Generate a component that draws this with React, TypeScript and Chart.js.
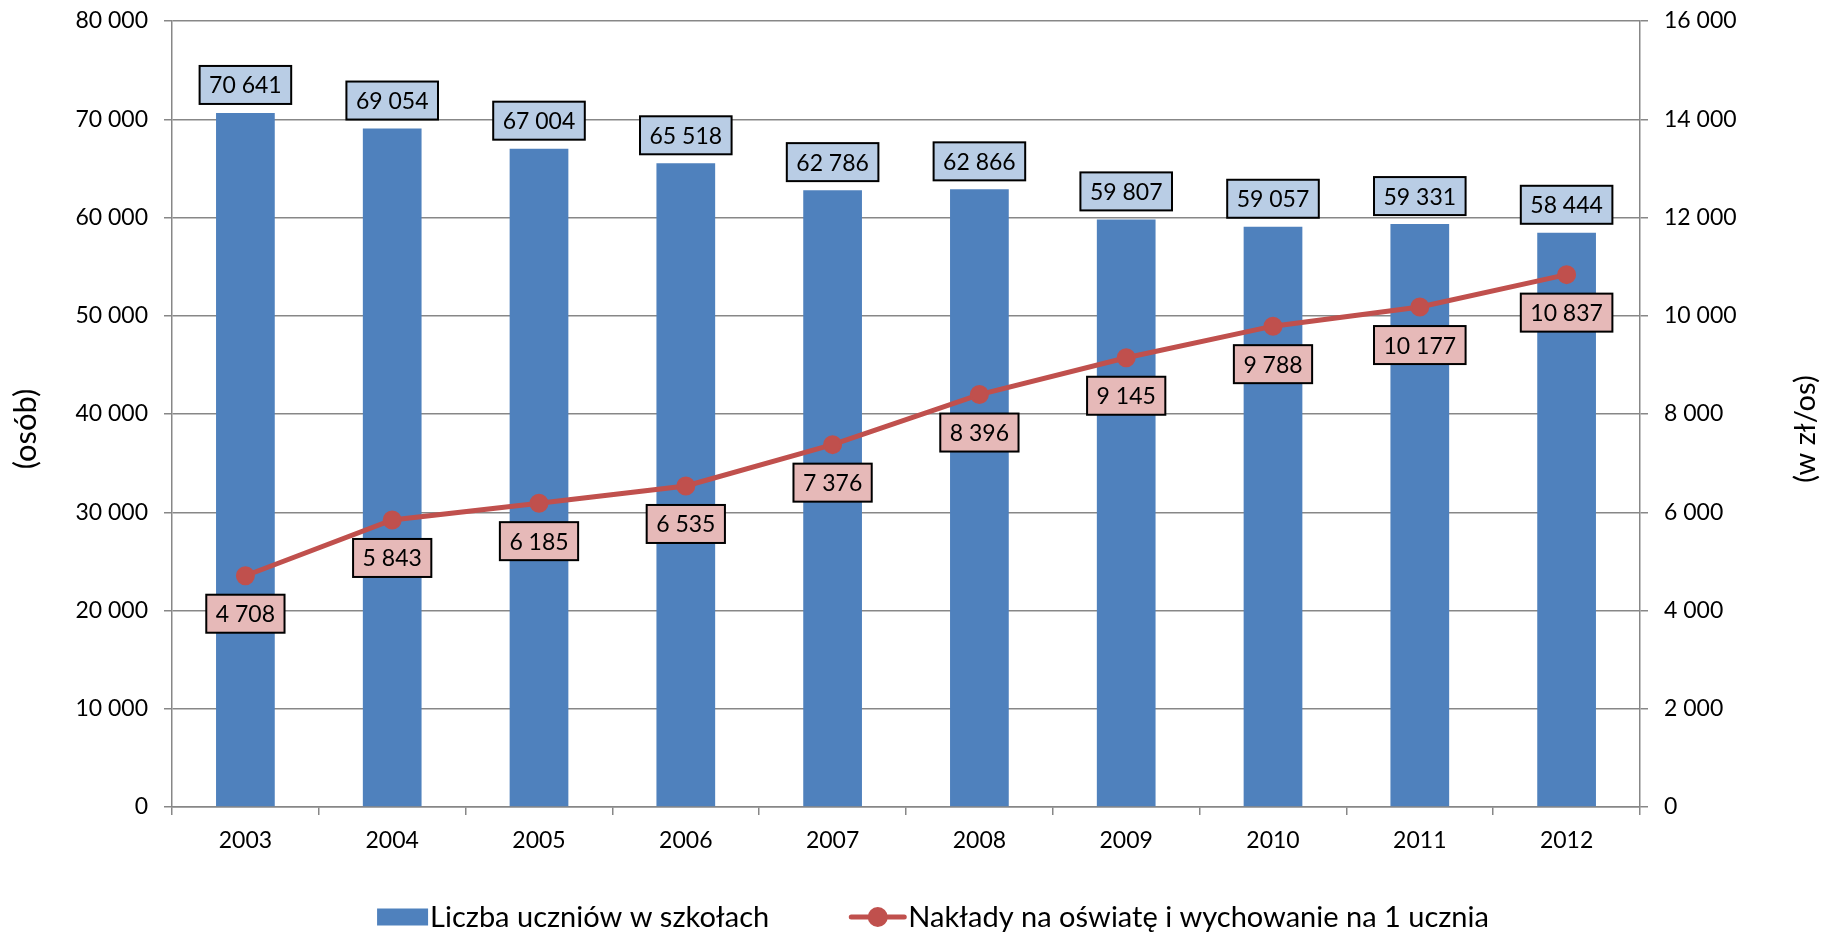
import React, { useEffect, useRef } from 'react';
import { Chart, registerables } from 'chart.js';

Chart.register(...registerables);

const years = ['2003', '2004', '2005', '2006', '2007', '2008', '2009', '2010', '2011', '2012'];
const students = [70641, 69054, 67004, 65518, 62786, 62866, 59807, 59057, 59331, 58444];
const spending = [4708, 5843, 6185, 6535, 7376, 8396, 9145, 9788, 10177, 10837];
const leftTickValues = [0, 10000, 20000, 30000, 40000, 50000, 60000, 70000, 80000];
const rightTickValues = [0, 2000, 4000, 6000, 8000, 10000, 12000, 14000, 16000];
const seriesNames = ['Liczba uczniów w szkołach', 'Nakłady na oświatę i wychowanie na 1 ucznia'];
const axisTitles = ['(osób)', '(w zł/os)'];

const FONT = 'Lato, "DejaVu Sans", sans-serif';
const GRID = '#878787';
const BAR = '#4f81bd';
const LINE = '#c0504d';
const BAR_LABEL = '#b9cde5';
const LINE_LABEL = '#e6b9b8';

const fmt = (v: number) => String(Math.round(v)).replace(/\B(?=(\d{3})+(?!\d))/g, ' ');

const boxLabels = {
  id: 'boxLabels',
  afterDatasetsDraw(chart: any) {
    const ctx = chart.ctx;
    ctx.save();
    ctx.font = `23px ${FONT}`;
    chart.data.datasets.forEach((ds: any, di: number) => {
      const meta = chart.getDatasetMeta(di);
      const isBar = meta.type === 'bar';
      meta.data.forEach((el: any, i: number) => {
        const txt = fmt(ds.data[i]);
        const cx = el.x;
        const cy = isBar ? el.y - 28 : el.y + 38;
        const w = ctx.measureText(txt).width + 19;
        const h = 38;
        ctx.fillStyle = isBar ? BAR_LABEL : LINE_LABEL;
        ctx.fillRect(cx - w / 2, cy - h / 2, w, h);
        ctx.lineWidth = 2;
        ctx.strokeStyle = '#000';
        ctx.strokeRect(cx - w / 2, cy - h / 2, w, h);
        ctx.fillStyle = '#000';
        ctx.textAlign = 'center';
        ctx.textBaseline = 'alphabetic';
        ctx.fillText(txt, cx, cy + 8.5);
      });
    });
    ctx.restore();
  },
};

const extras = {
  id: 'extras',
  afterDraw(chart: any) {
    const ctx = chart.ctx;
    const { top, bottom } = chart.chartArea;
    ctx.save();
    // axis titles, both rotated bottom-to-top
    ctx.fillStyle = '#000';
    ctx.textAlign = 'center';
    ctx.textBaseline = 'middle';
    const cy = (top + bottom) / 2 + 15;
    [[26, axisTitles[0], 31], [1806, axisTitles[1], 29]].forEach(([x, t, size]: any) => {
      ctx.save();
      ctx.font = `${size}px ${FONT}`;
      ctx.translate(x, cy);
      ctx.rotate(-Math.PI / 2);
      ctx.fillText(t, 0, 0);
      ctx.restore();
    });
    // legend
    ctx.font = `29px ${FONT}`;
    ctx.textAlign = 'left';
    ctx.textBaseline = 'alphabetic';
    const w1 = ctx.measureText(seriesNames[0]).width;
    const w2 = ctx.measureText(seriesNames[1]).width;
    const total = 51 + 2 + w1 + 80 + 57 + 2 + w2;
    const start = 933 - total / 2;
    const yc = chart.height - 15;
    ctx.fillStyle = BAR;
    ctx.fillRect(start, yc - 8.5, 51, 17);
    ctx.fillStyle = '#000';
    ctx.fillText(seriesNames[0], start + 53, yc + 10);
    const x2 = start + 53 + w1 + 80;
    ctx.strokeStyle = LINE;
    ctx.lineWidth = 5;
    ctx.lineCap = 'round';
    ctx.beginPath();
    ctx.moveTo(x2 + 2, yc);
    ctx.lineTo(x2 + 55, yc);
    ctx.stroke();
    ctx.fillStyle = LINE;
    ctx.beginPath();
    ctx.arc(x2 + 28.5, yc, 10, 0, Math.PI * 2);
    ctx.fill();
    ctx.fillStyle = '#000';
    ctx.fillText(seriesNames[1], x2 + 59, yc + 10);
    ctx.restore();
  },
};

export default function App() {
  const ref = useRef<HTMLCanvasElement | null>(null);

  useEffect(() => {
    let chart: Chart | null = null;
    let cancelled = false;
    const make = () => {
      if (cancelled || !ref.current) return;
      const tickFont = { family: FONT, size: 23 };
      chart = new Chart(ref.current, {
        type: 'bar',
        data: {
          labels: years,
          datasets: [
            {
              type: 'bar',
              label: seriesNames[0],
              data: students,
              backgroundColor: BAR,
              barPercentage: 0.4,
              categoryPercentage: 1,
              yAxisID: 'y',
              order: 1,
            },
            {
              type: 'line',
              label: seriesNames[1],
              data: spending,
              borderColor: LINE,
              backgroundColor: LINE,
              borderWidth: 5,
              pointRadius: 8.5,
              pointBorderWidth: 2,
              pointBackgroundColor: LINE,
              pointBorderColor: LINE,
              tension: 0,
              yAxisID: 'y1',
              order: 0,
            } as any,
          ],
        },
        options: {
          animation: false,
          responsive: false,
          devicePixelRatio: 1,
          events: [],
          layout: { padding: { top: 21, left: 0, right: 0, bottom: 0 } },
          plugins: { legend: { display: false }, tooltip: { enabled: false } },
          scales: {
            x: {
              type: 'category',
              offset: true,
              grid: { display: true, drawOnChartArea: false, drawTicks: true, tickLength: 8, offset: true, color: GRID, lineWidth: 1.5 },
              border: { display: true, color: GRID, width: 1.5 },
              ticks: { color: '#000', font: tickFont, padding: 12, maxRotation: 0, autoSkip: false },
              afterFit: (s: any) => { s.height = 125; s.paddingLeft = 0; s.paddingRight = 0; },
            },
            y: {
              type: 'linear',
              position: 'left',
              min: 0,
              max: 80000,
              afterBuildTicks: (s: any) => { s.ticks = leftTickValues.map((value) => ({ value })); },
              grid: { color: GRID, lineWidth: 1.5, tickLength: 8, drawTicks: true },
              border: { display: true, color: GRID, width: 1.5 },
              ticks: { color: '#000', font: tickFont, padding: 16, callback: (v: any) => fmt(Number(v)) },
              afterFit: (s: any) => { s.width = 172; s.paddingTop = 0; s.paddingBottom = 0; },
            },
            y1: {
              type: 'linear',
              position: 'right',
              min: 0,
              max: 16000,
              afterBuildTicks: (s: any) => { s.ticks = rightTickValues.map((value) => ({ value })); },
              grid: { drawOnChartArea: false, color: GRID, lineWidth: 1.5, tickLength: 8, drawTicks: true },
              border: { display: true, color: GRID, width: 1.5 },
              ticks: { color: '#000', font: tickFont, padding: 16, callback: (v: any) => fmt(Number(v)) },
              afterFit: (s: any) => { s.width = 184; s.paddingTop = 0; s.paddingBottom = 0; },
            },
          },
        } as any,
        plugins: [boxLabels, extras],
      });
    };
    const fonts: any = (document as any).fonts;
    if (fonts && fonts.load) {
      Promise.all([fonts.load(`23px Lato`), fonts.load(`29px Lato`)]).then(make, make);
    } else {
      make();
    }
    return () => {
      cancelled = true;
      if (chart) chart.destroy();
    };
  }, []);

  return (
    <div style={{ position: 'fixed', left: 0, top: 0, width: 1824, height: 932, background: '#fff' }}>
      <canvas ref={ref} width={1824} height={932} style={{ display: 'block', width: 1824, height: 932 }} />
    </div>
  );
}
